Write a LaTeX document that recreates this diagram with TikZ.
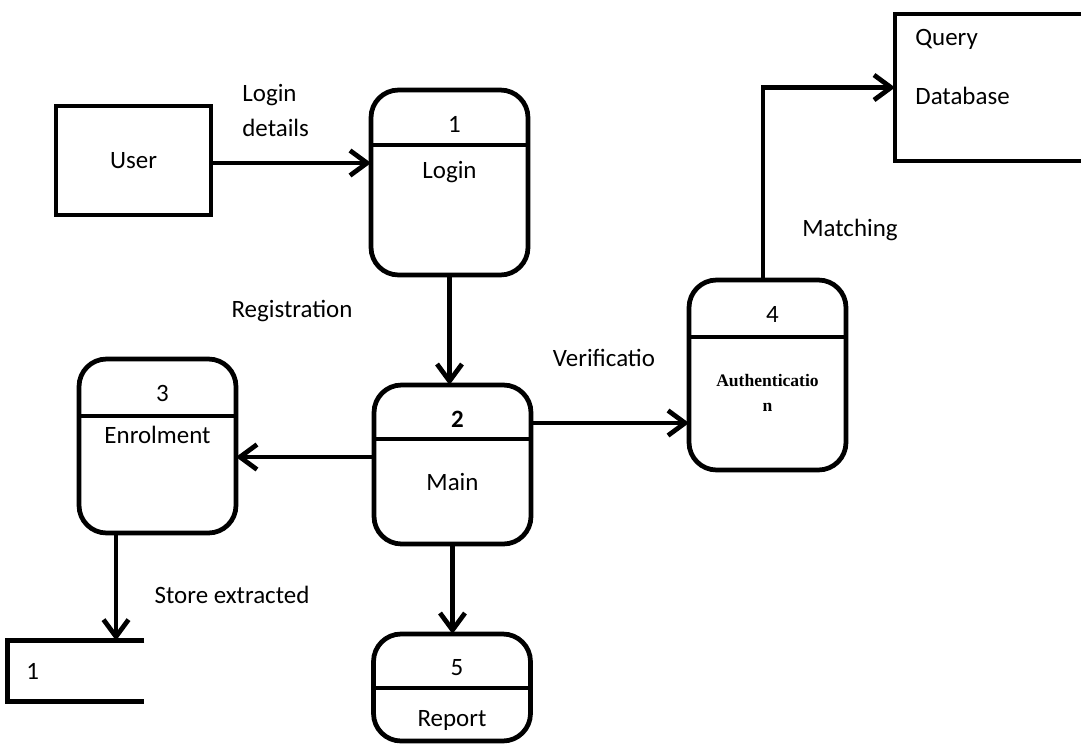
\documentclass[tikz,border=0pt]{standalone}
\usepackage{fontspec}
\setmainfont{Carlito}
\newfontfamily\authfont{Liberation Serif}
\usetikzlibrary{arrows.meta, positioning, calc}

\begin{document}
\begin{tikzpicture}[
    x=0.02cm, y=-0.02cm,
    line width=2.7pt,
    font=\fontsize{14.2}{17}\selectfont,
    proc/.style={rectangle, rounded corners=0.55cm, draw, minimum width=3.14cm,
                 inner sep=0pt, outer sep=0pt},
    entity/.style={rectangle, draw, inner sep=0pt, outer sep=0pt},
    flow/.style={-{Straight Barb[length=3.4mm, width=5mm]}},
    lbl/.style={inner sep=0pt, align=left},
  ]
    \useasboundingbox (0,0) rectangle (1081,744);

    % external entities and store
    \node[entity, minimum width=3.1cm, minimum height=2.18cm] (user) at (133.5,160.5) {User};
    \node[entity, minimum width=5cm, minimum height=2.94cm] (query) at (1020,87.5) {};
    \node[inner sep=0pt, minimum width=2.64cm, minimum height=1.12cm] (store) at (76,671) {};
    \draw (store.north east) -- (store.north west) -- (store.south west) -- (store.south east);

    % processes
    \node[proc, minimum height=3.70cm] (login) at (449.5,182.5) {};
    \node[proc, minimum height=3.18cm] (main) at (452.5,464.5) {};
    \node[proc, minimum height=3.48cm] (enrol) at (157.5,446) {};
    \node[proc, minimum height=3.80cm] (auth) at (767.5,375) {};
    \node[proc, minimum height=2.14cm] (report) at (452,687.5) {};

    \draw ([yshift=-1.1cm]login.north west) -- ([yshift=-1.1cm]login.north east);
    \draw ([yshift=-1.08cm]main.north west) -- ([yshift=-1.08cm]main.north east);
    \draw ([yshift=-1.14cm]enrol.north west) -- ([yshift=-1.14cm]enrol.north east);
    \draw ([yshift=-1.14cm]auth.north west) -- ([yshift=-1.14cm]auth.north east);
    \draw ([yshift=-1.08cm]report.north west) -- ([yshift=-1.08cm]report.north east);

    \node (n1) at ([xshift=0.1cm, yshift=-0.68cm]login.north) {1};
    \node (n2) at ([xshift=0.1cm, yshift=-0.68cm]main.north) {\bfseries 2};
    \node (n3) at ([xshift=0.1cm, yshift=-0.68cm]enrol.north) {3};
    \node (n4) at ([xshift=0.1cm, yshift=-0.68cm]auth.north) {4};
    \node (n5) at ([xshift=0.1cm, yshift=-0.68cm]report.north) {5};

    \node (t1) at ([yshift=-1.64cm]login.north) {Login};
    \node (t2) at ([yshift=-1.94cm]main.north) {Main};
    \node (t3) at ([yshift=-1.52cm]enrol.north) {Enrolment};
    \node[align=center, font=\authfont\bfseries\fontsize{10}{14.2}\selectfont]
      (t4) at ([yshift=-2.25cm]auth.north) {Authenticatio\\n};
    \node (t5) at ([yshift=-1.72cm]report.north) {Report};

    \node[lbl, anchor=west] (q1) at ([xshift=0.36cm, yshift=-0.5cm]query.north west) {Query};
    \node[lbl, anchor=west] (q2) at ([xshift=0.36cm, yshift=-1.64cm]query.north west) {Database};
    \node[lbl] (s1) at ([xshift=0.5cm]store.west) {1};

    % flows
    \draw[flow] ([yshift=-0.05cm]user.east) -- ([yshift=-0.05cm]user.east -| login.west);
    \draw[flow] (login.south) -- (login.south |- main.north);
    \draw[flow] ([yshift=0.15cm]main.west) -- ([yshift=0.15cm]main.west -| enrol.east);
    \draw[flow] ([yshift=0.83cm]main.east) -- ([yshift=0.83cm]main.east -| auth.west);
    \draw[flow] ([xshift=-0.83cm]enrol.south) -- ([xshift=-0.83cm]enrol.south |- store.north);
    \draw[flow] (main.south) -- (main.south |- report.north);
    \draw[flow] ([xshift=-0.09cm]auth.north) |- (query.west);

    % flow labels
    \node[lbl, anchor=west, font=\fontsize{14.2}{19.9}\selectfont] (l1) at (240,110.5) {Login\\details};
    \node[lbl] (l2) at (292,311) {Registration};
    \node[lbl] (l3) at (604,358) {Verificatio};
    \node[lbl] (l4) at (850,230) {Matching};
    \node[lbl] (l5) at (232,595) {Store extracted};
  \end{tikzpicture}
\end{document}
